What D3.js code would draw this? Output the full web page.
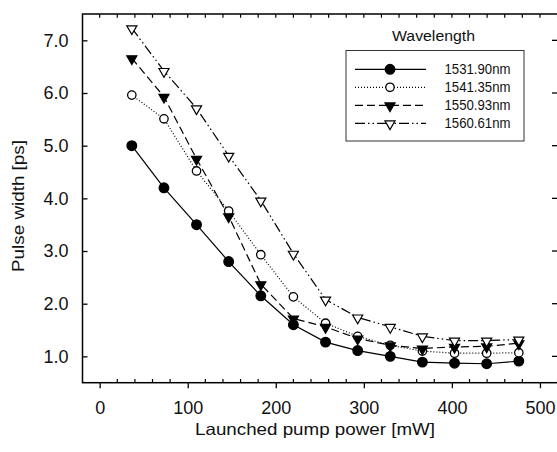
<!DOCTYPE html>
<html><head><meta charset="utf-8">
<script src="https://cdn.jsdelivr.net/npm/d3@7"></script>
<style>
html,body{margin:0;padding:0;background:#fff;}
svg{display:block;font-family:"Liberation Sans",Arial,Helvetica,sans-serif;}
svg text{font-family:"Liberation Sans",Arial,Helvetica,sans-serif;}
</style></head>
<body><svg id="c" width="557" height="452"></svg>
<script>
const power = [36.5, 73, 110, 146.5, 183, 220, 256.5, 293, 330, 366.5, 403, 439.5, 476];
const w1531 = [5.00, 4.20, 3.50, 2.80, 2.15, 1.60, 1.27, 1.11, 1.00, 0.89, 0.87, 0.86, 0.91];
const w1541 = [5.96, 5.51, 4.52, 3.76, 2.93, 2.13, 1.63, 1.38, 1.21, 1.10, 1.06, 1.06, 1.07];
const w1550 = [6.66, 5.93, 4.75, 3.66, 2.37, 1.72, 1.56, 1.34, 1.21, 1.15, 1.18, 1.19, 1.25];
const w1560 = [7.23, 6.42, 5.71, 4.81, 3.96, 2.95, 2.08, 1.74, 1.56, 1.38, 1.30, 1.30, 1.32];
const seriesNames = ["1531.90nm", "1541.35nm", "1550.93nm", "1560.61nm"];
const xTicks = [0, 100, 200, 300, 400, 500];
const yTicks = [1.0, 2.0, 3.0, 4.0, 5.0, 6.0, 7.0];
const legendTitle = "Wavelength";
const xTitle = "Launched pump power [mW]";
const yTitle = "Pulse width [ps]";

const series = [
  {name: seriesNames[0], values: w1531, dash: null, marker: "circle", fill: "#000"},
  {name: seriesNames[1], values: w1541, dash: "1,2", marker: "circle", fill: "#fff"},
  {name: seriesNames[2], values: w1550, dash: "8,4", marker: "triangle", fill: "#000"},
  {name: seriesNames[3], values: w1560, dash: "10,3,1.5,3,1.5,3", marker: "triangle", fill: "#fff"}
];

const svg = d3.select("#c");
const L = 82.5, R = 558, T = 14, B = 382.7;
const x = d3.scaleLinear().domain([-19.5, 520.5]).range([L, R]);
const y = d3.scaleLinear().domain([0.5, 7.5]).range([B, T]);
const ink = "#000";

// frame
svg.append("rect").attr("x", L).attr("y", T).attr("width", R - L).attr("height", B - T)
  .attr("fill", "none").attr("stroke", ink).attr("stroke-width", 1.5);

// bottom axis: major outward, minor inward
const minorX = d3.range(0, 521, 20);
const gb = svg.append("g").attr("transform", `translate(0,${B})`)
  .call(d3.axisBottom(x).tickValues(xTicks).tickSize(5.5).tickFormat(d3.format("d")).tickPadding(13));
gb.attr("font-family", null);
gb.select(".domain").remove();
gb.selectAll("line").attr("stroke", ink).attr("stroke-width", 1.3);
gb.selectAll("text").attr("font-size", 18).attr("fill", "#111");
svg.append("g").selectAll("line").data(minorX.filter(v => !xTicks.includes(v)))
  .join("line").attr("x1", d => x(d)).attr("x2", d => x(d)).attr("y1", B).attr("y2", B - 3.7)
  .attr("stroke", ink).attr("stroke-width", 1.2);
// top axis ticks inward
svg.append("g").selectAll("line").data(minorX)
  .join("line").attr("x1", d => x(d)).attr("x2", d => x(d)).attr("y1", T).attr("y2", T + 3.7)
  .attr("stroke", ink).attr("stroke-width", 1.2);

// left axis
const gl = svg.append("g").attr("transform", `translate(${L},0)`)
  .call(d3.axisLeft(y).tickValues(yTicks).tickSize(-5).tickFormat(d3.format(".1f")).tickPadding(14));
gl.attr("font-family", null);
gl.select(".domain").remove();
gl.selectAll("line").attr("stroke", ink).attr("stroke-width", 1.3);
gl.selectAll("text").attr("font-size", 18).attr("fill", "#111");
// right axis ticks inward
svg.append("g").selectAll("line").data(yTicks)
  .join("line").attr("x1", 552).attr("x2", R).attr("y1", d => y(d)).attr("y2", d => y(d))
  .attr("stroke", ink).attr("stroke-width", 1.3);

// titles
svg.append("text").attr("x", 315).attr("y", 435).attr("text-anchor", "middle")
  .attr("font-size", 16.5).attr("fill", "#111").attr("textLength", 240).attr("lengthAdjust", "spacingAndGlyphs")
  .text(xTitle);
svg.append("text").attr("transform", "translate(24,206) rotate(-90)").attr("text-anchor", "middle")
  .attr("font-size", 16.5).attr("fill", "#111").attr("textLength", 132).attr("lengthAdjust", "spacingAndGlyphs")
  .text(yTitle);

function drawMarker(g, s, cx, cy) {
  if (s.marker === "circle") {
    const r = s.fill === "#000" ? 4.8 : 4.2;
    g.append("circle").attr("cx", cx).attr("cy", cy).attr("r", r)
      .attr("fill", s.fill).attr("stroke", "#000").attr("stroke-width", 1.3);
  } else {
    g.append("path").attr("d", d3.symbol().type(d3.symbolTriangle).size(44)())
      .attr("transform", `translate(${cx},${cy + 0.5}) rotate(180)`)
      .attr("fill", s.fill).attr("stroke", "#000").attr("stroke-width", 1.2);
  }
}

const line = d3.line().x(d => x(d[0])).y(d => y(d[1]));
const plot = svg.append("g");
series.forEach(s => {
  const pts = power.map((p, i) => [p, s.values[i]]);
  plot.append("path").datum(pts).attr("d", line).attr("fill", "none")
    .attr("stroke", "#000").attr("stroke-width", 1.2)
    .attr("stroke-dasharray", s.dash);
});
series.forEach(s => {
  const g = plot.append("g");
  power.forEach((p, i) => drawMarker(g, s, x(p), y(s.values[i])));
});

// legend
const lg = svg.append("g");
lg.append("text").attr("x", 433.5).attr("y", 41).attr("text-anchor", "middle")
  .attr("font-size", 15.5).attr("fill", "#111").attr("textLength", 83).attr("lengthAdjust", "spacingAndGlyphs")
  .text(legendTitle);
lg.append("rect").attr("x", 346).attr("y", 50.5).attr("width", 178).attr("height", 90.5)
  .attr("fill", "#fff").attr("stroke", "#333").attr("stroke-width", 1);
series.forEach((s, i) => {
  const ry = 69.3 + i * 18;
  lg.append("line").attr("x1", 355).attr("x2", 426).attr("y1", ry).attr("y2", ry)
    .attr("stroke", "#000").attr("stroke-width", 1.2).attr("stroke-dasharray", s.dash);
  drawMarker(lg, s, 390, ry);
  lg.append("text").attr("x", 444.5).attr("y", ry + 5).attr("font-size", 14.5).attr("fill", "#111")
    .attr("textLength", 66).attr("lengthAdjust", "spacingAndGlyphs").text(s.name);
});
</script></body></html>
